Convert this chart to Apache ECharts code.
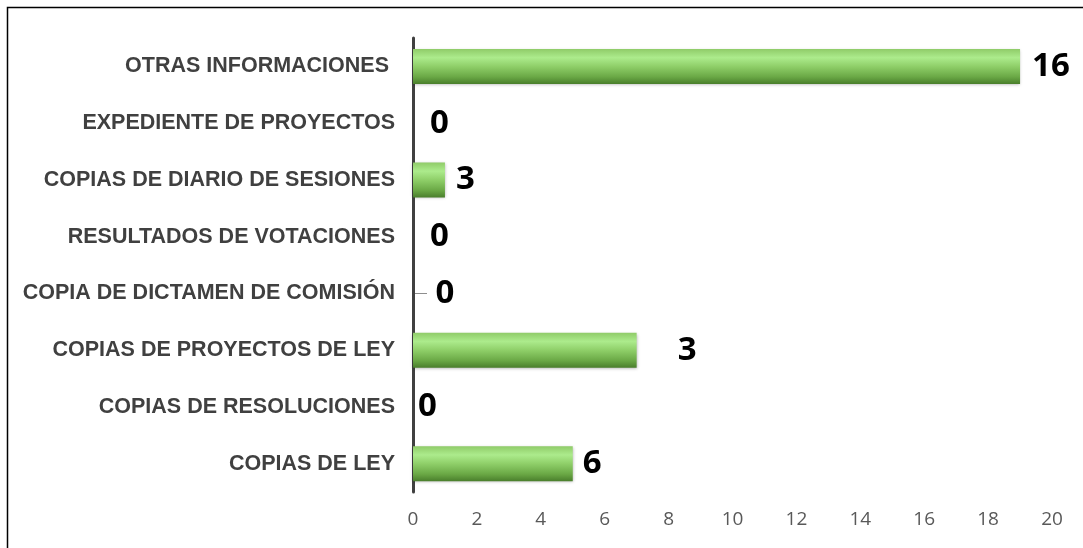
<!DOCTYPE html>
<html>
<head>
<meta charset="utf-8">
<script src="https://cdn.jsdelivr.net/npm/echarts@6/dist/echarts.min.js"></script>
<style>
  html, body { margin: 0; padding: 0; background: #fff; }
  #chart { width: 1083px; height: 548px; }
</style>
</head>
<body>
<div id="chart"></div>
<script>
// categories bottom -> top (category axis starts at the bottom)
const categories = [
  "COPIAS DE LEY",
  "COPIAS DE RESOLUCIONES",
  "COPIAS DE PROYECTOS DE LEY",
  "COPIA DE DICTAMEN DE COMISIÓN",
  "RESULTADOS DE VOTACIONES",
  "COPIAS DE DIARIO DE SESIONES",
  "EXPEDIENTE DE PROYECTOS",
  "OTRAS INFORMACIONES "
];
// bar lengths as drawn
const barValues = [5, 0, 7, 0, 0, 1, 0, 19];
// labels as printed (they differ from the bars in the original)
const labelTexts = ["6", "0", "3", "0", "0", "3", "0", "16"];
const xTicks = [0, 2, 4, 6, 8, 10, 12, 14, 16, 18, 20];

// label gap from bar end, px
const labelGap = [10, 5, 41, 2, 17, 11, 17, 12];

const barColor = {
  type: "linear", x: 0, y: 0, x2: 0, y2: 1,
  colorStops: [
    { offset: 0, color: "#8fcb68" },
    { offset: 0.25, color: "#aceb8c" },
    { offset: 0.5, color: "#8fcf69" },
    { offset: 0.8, color: "#6aa845" },
    { offset: 1, color: "#4a7f2c" }
  ]
};

let chart = echarts.init(document.getElementById("chart"));

let option = {
  animation: false,
  grid: {
    left: 413,
    right: 31,
    top: 38,
    bottom: 56,
    containLabel: false
  },
  xAxis: {
    type: "value",
    min: xTicks[0],
    max: xTicks[xTicks.length - 1],
    interval: 2,
    axisLine: { show: false },
    axisTick: { show: false },
    splitLine: { show: false },
    axisLabel: {
      color: "#595959",
      fontSize: 19,
      fontFamily: "Open Sans",
      margin: 18
    }
  },
  yAxis: {
    type: "category",
    data: categories,
    axisLine: { show: true, lineStyle: { color: "#404040", width: 3 } },
    axisTick: { show: false },
    axisLabel: {
      color: "#404040",
      fontSize: 21.5,
      fontWeight: "bold",
      fontFamily: "Liberation Sans",
      margin: 18
    }
  },
  series: [
    {
      type: "bar",
      barWidth: 35,
      data: barValues.map((v, i) => ({
        value: v,
        label: {
          distance: labelGap[i],
          formatter: categories[i].indexOf("DICTAMEN") >= 0
            ? "{l|—} {v|" + labelTexts[i] + "}"
            : labelTexts[i]
        }
      })),
      itemStyle: {
        color: barColor,
        borderWidth: 0,
        shadowColor: "rgba(0,0,0,0.3)",
        shadowBlur: 3,
        shadowOffsetY: 1
      },
      label: {
        show: true,
        position: "right",
        color: "#000",
        fontSize: 33,
        fontWeight: "bold",
        fontFamily: "Noto Sans",
        rich: {
          l: { color: "#7f7f7f", fontSize: 12, fontWeight: "normal", fontFamily: "Liberation Sans" },
          v: { color: "#000", fontSize: 33, fontWeight: "bold", fontFamily: "Noto Sans" }
        }
      }
    }
  ],
  graphic: [
    {
      type: "rect",
      shape: { x: 7.5, y: 7.5, width: 1100, height: 600 },
      style: { fill: "none", stroke: "#000", lineWidth: 1.5 },
      silent: true
    }
  ]
};

chart.setOption(option);
window.onresize = function() {
  chart.resize();
};
</script>
</body>
</html>
